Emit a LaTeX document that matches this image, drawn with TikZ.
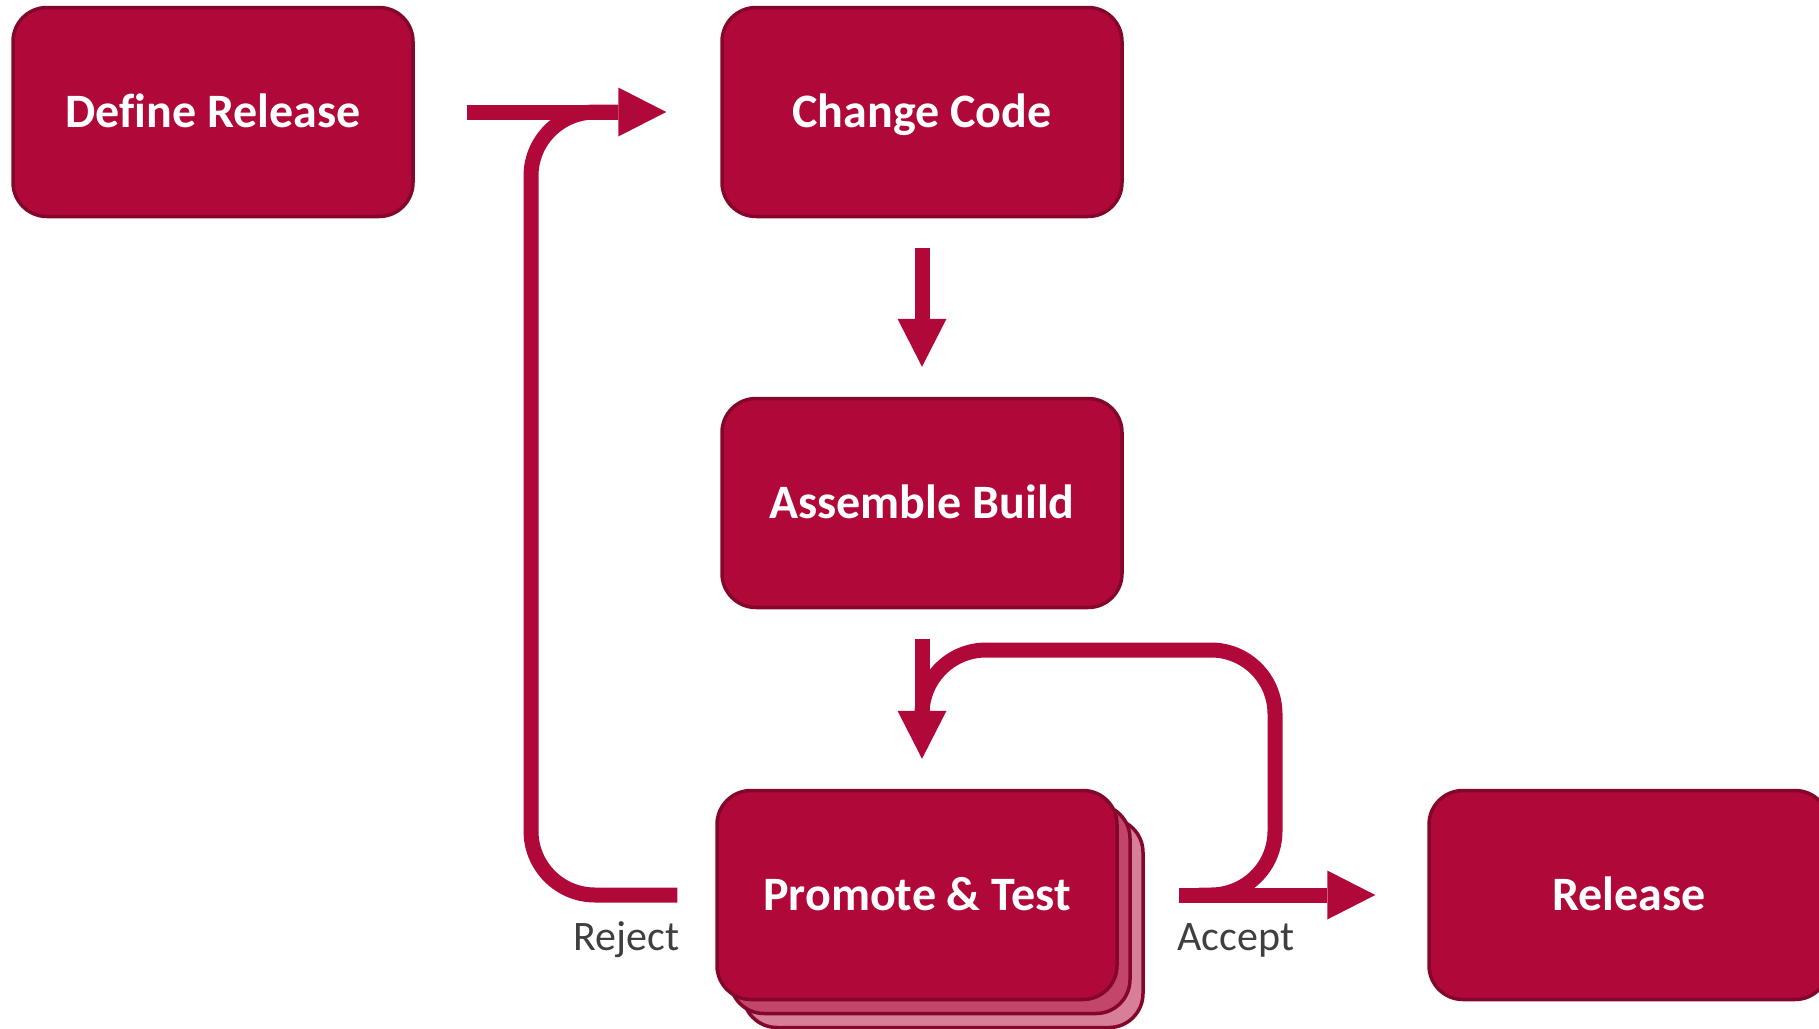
\documentclass[tikz,border=0pt]{standalone}
\usepackage{fontspec}
\setmainfont{Carlito}[Ligatures=NoCommon]
\usetikzlibrary{arrows.meta}
\definecolor{boxred}{HTML}{B00838}
\definecolor{boxedge}{HTML}{85062B}
\definecolor{layertwo}{HTML}{C4456A}
\definecolor{layerthree}{HTML}{D77F98}
\definecolor{labelgrey}{HTML}{3F3F3F}

\begin{document}
\begin{tikzpicture}[x=0.5pt, y=-0.5pt,
    stage/.style={draw=boxedge, line width=1.75pt, fill=boxred, rounded corners=17pt,
      minimum width=200pt, minimum height=104.5pt, inner sep=0pt,
      text height=15.5pt, text depth=0pt,
      text=white, font=\bfseries\fontsize{24}{28}\selectfont},
    flow/.style={draw=boxred, line width=7.5pt,
      -{Triangle[length=24pt, width=24.5pt, line width=0pt]}},
    backline/.style={draw=boxred, line width=7.5pt, rounded corners=32pt},
    verdict/.style={text=labelgrey, inner sep=0pt, font=\fontsize{21}{25}\selectfont}]
  \useasboundingbox (0,0) rectangle (1819,1028);

  \node[stage] (define) at (213,112) {Define Release};
  \node[stage] (change) at (922,112) {Change Code};
  \node[stage] (assemble) at (922,503) {Assemble Build};

  % stacked copies behind promote
  \node[stage, fill=layerthree] (promote3) at (943,923) {};
  \node[stage, fill=layertwo] (promote2) at (930,909) {};
  \node[stage] (promote) at (917,895) {Promote \& Test};

  \node[stage] (release) at (1629,895) {Release};

  \coordinate (testin) at (assemble.south |- promote.north);

  % loops back
  \draw[backline] ([xshift=-19pt]promote.west) -| (531,112) -- ([xshift=-51pt]change.west);
  \draw[backline] ([xshift=40pt]promote.east) -| (1275,650) -| ([yshift=38pt]testin);

  \draw[flow] ([xshift=26pt]define.east) -- ([xshift=-27pt]change.west);
  \draw[flow] ([yshift=-15pt]change.south) -- ([yshift=15pt]assemble.north);
  \draw[flow] ([yshift=-15pt]assemble.south) -- ([yshift=15pt]testin);
  \draw[flow] ([xshift=30pt]promote.east) -- ([xshift=-26pt]release.west);

  \node[verdict, anchor=base east] (reject) at (680,950) {Reject};
  \node[verdict, anchor=base west] (accept) at (1177,950) {Accept};
\end{tikzpicture}
\end{document}
